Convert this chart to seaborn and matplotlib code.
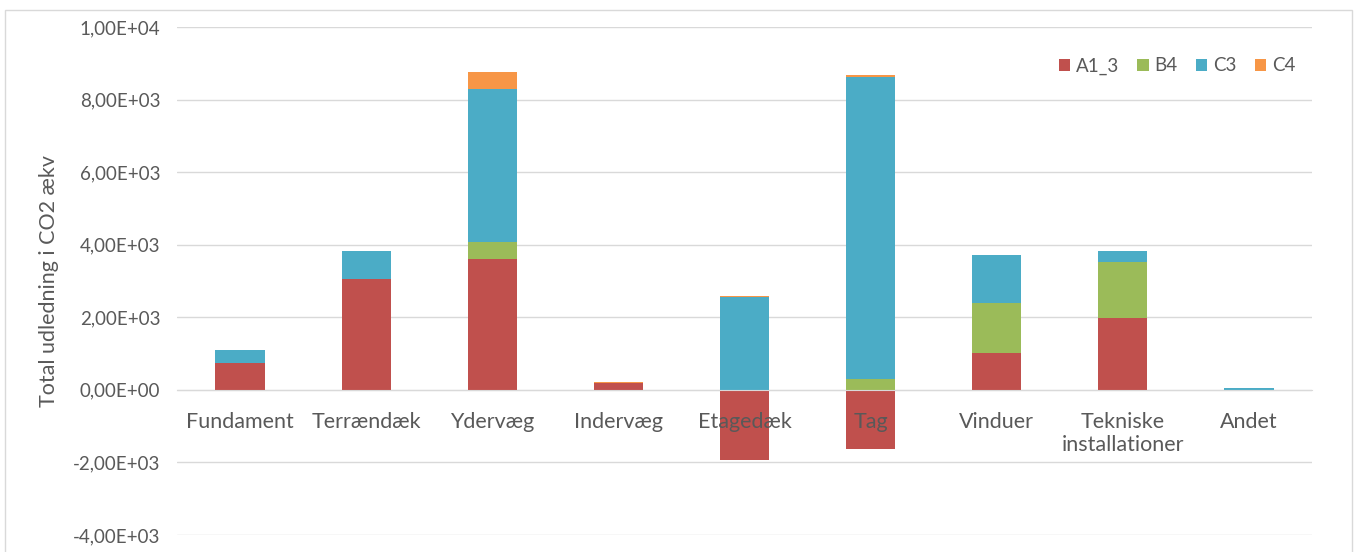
import matplotlib
matplotlib.use("Agg")
import matplotlib.pyplot as plt
from matplotlib.patches import Rectangle
from matplotlib.ticker import FuncFormatter
import numpy as np
import seaborn as sns

# values (kg CO2 eq)
categories = ["Fundament", "Terrændæk", "Ydervæg", "Indervæg", "Etagedæk",
              "Tag", "Vinduer", "Tekniske\ninstallationer", "Andet"]
a1_3 = [737, 3062, 3614, 185, -1930, -1619, 1012, 1977, 0]
b4 = [0, 0, 459, 0, 0, 303, 1379, 1536, 0]
c3 = [366, 772, 4230, 0, 2557, 8313, 1315, 303, 46]
c4 = [0, 0, 460, 20, 40, 55, 20, 0, 0]

series_names = ["A1_3", "B4", "C3", "C4"]
colors = {"A1_3": "#C0504D", "B4": "#9BBB59", "C3": "#4BACC6", "C4": "#F79646"}

sns.set_style("white")
plt.rcParams["font.family"] = ["Lato", "DejaVu Sans"]
text_col = "#595959"

# cumulative tops for stacking by overlay (positives stack from zero)
pos_a = np.clip(a1_3, 0, None)
top_b = pos_a + np.array(b4)
top_c3 = top_b + np.array(c3)
top_c4 = top_c3 + np.array(c4)
layers = [("C4", top_c4), ("C3", top_c3), ("B4", top_b), ("A1_3", np.array(a1_3))]

fig = plt.figure(figsize=(13.59, 5.52), dpi=100)
ax = fig.add_axes([177 / 1359, 1 - 535 / 552, (1312 - 177) / 1359, (535 - 27) / 552])

for name, vals in layers:
    sns.barplot(x=list(range(len(categories))), y=vals, color=colors[name],
                width=0.39, saturation=1, linewidth=0, label=name, ax=ax)

ax.set_ylim(-4000, 10000)
ax.set_xlim(-0.5, len(categories) - 0.5)
ax.set_yticks(np.arange(-4000, 10001, 2000))
ax.yaxis.set_major_formatter(FuncFormatter(lambda v, p: f"{v:.2E}".replace(".", ",")))
ax.set_xticks(range(len(categories)))
ax.set_xticklabels(categories, linespacing=1.3)

ax.grid(axis="y", color="#d9d9d9", linewidth=1)
ax.set_axisbelow(True)
ax.xaxis.set_zorder(3)  # category labels sit on top of the negative bars
for s in ["top", "right", "left"]:
    ax.spines[s].set_visible(False)
ax.spines["bottom"].set_position(("data", 0))
ax.spines["bottom"].set_color("#d9d9d9")
ax.tick_params(axis="y", length=0, pad=12, labelsize=13.5, labelcolor=text_col)
ax.tick_params(axis="x", length=0, pad=16, labelsize=15.5, labelcolor=text_col)

ax.set_ylabel("Total udledning i CO2 ækv", fontsize=15.5, color=text_col, labelpad=10)
ax.set_xlabel("")

handles, labels = ax.get_legend_handles_labels()
order = [labels.index(n) for n in series_names]
ax.legend([handles[i] for i in order], series_names, loc="center",
          bbox_to_anchor=(1177 / 1359, 1 - 66 / 552), bbox_transform=fig.transFigure,
          ncol=4, frameon=False, fontsize=13.5, labelcolor=text_col,
          handlelength=0.6, handleheight=0.6, handletextpad=0.3, columnspacing=1.0)

fig.patches.append(Rectangle((5 / 1359, -0.02), 1347 / 1359, 1 - 10 / 552 + 0.02,
                             transform=fig.transFigure, fill=False,
                             edgecolor="#d9d9d9", linewidth=1))

fig.savefig("out.png", dpi=100, facecolor="white")
